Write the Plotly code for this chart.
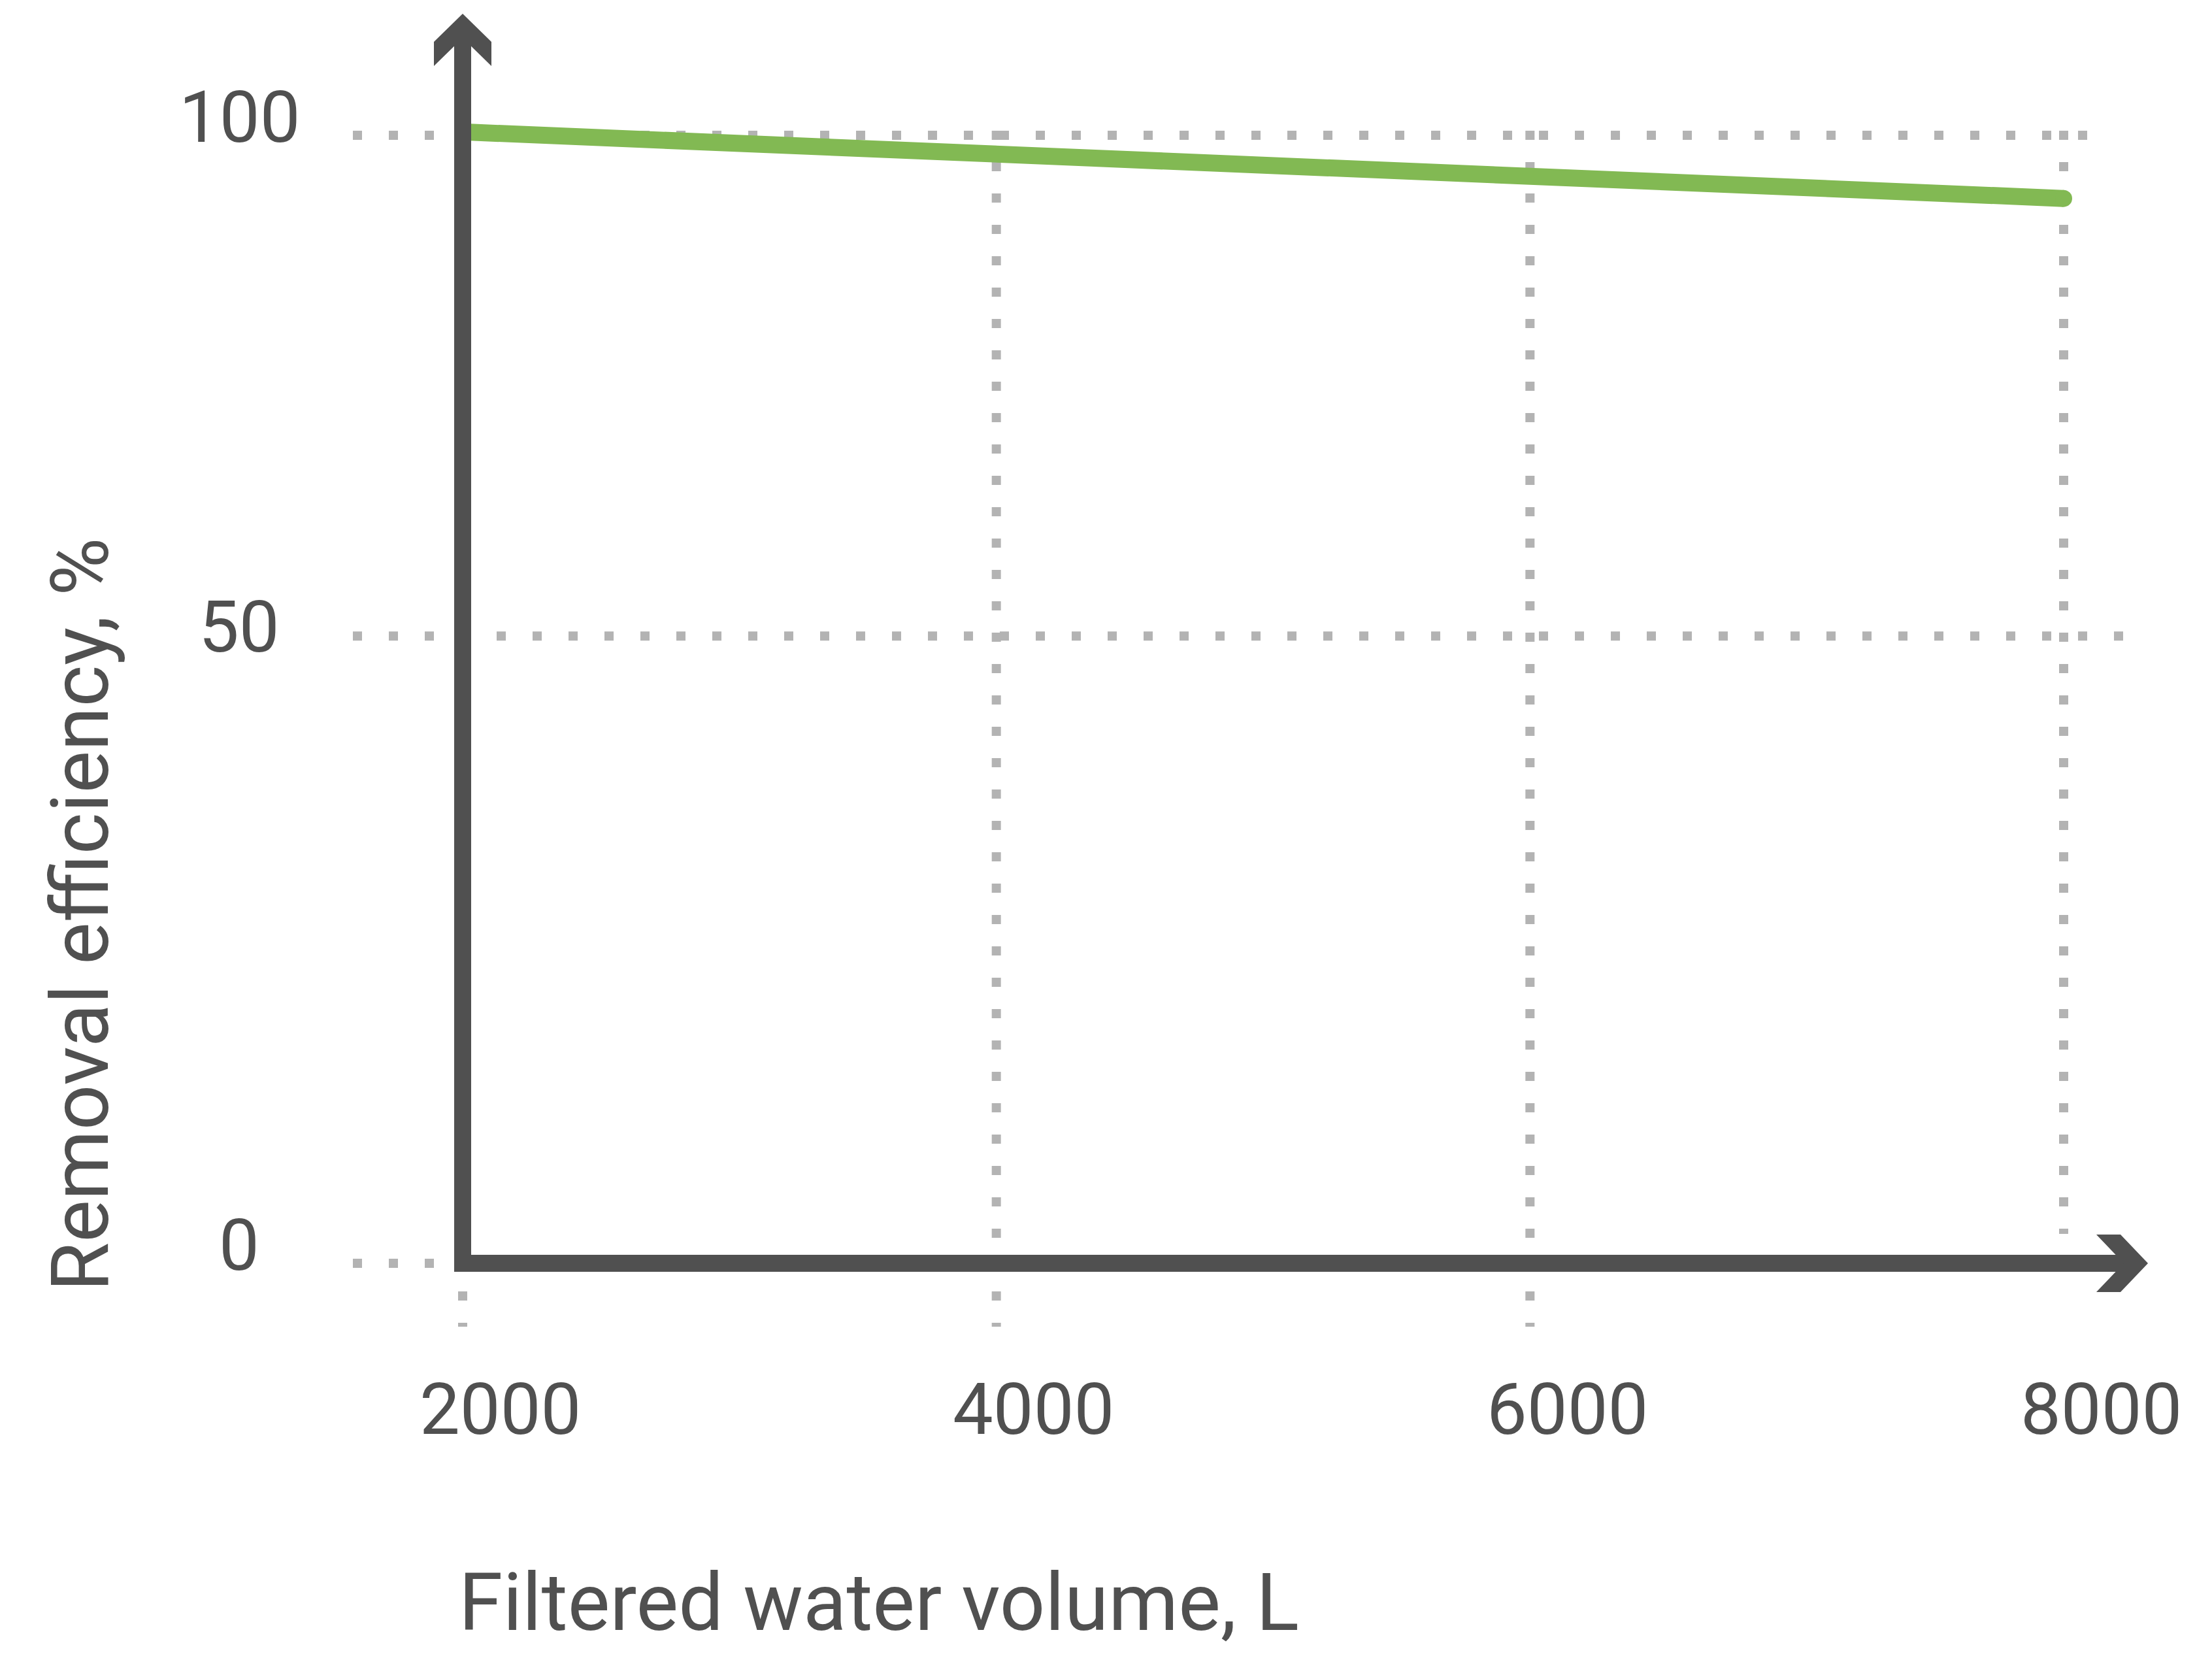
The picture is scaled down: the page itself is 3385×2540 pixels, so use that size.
import plotly.graph_objects as go

# data
volume = [2000, 8000]
efficiency = [100.3, 94.4]

x_ticks = [2000, 4000, 6000, 8000]
x_tick_text = ["2000", "4000", "6000", "8000"]
# the picture's y scale is not linear: the "50" line sits higher than it should
y_ticks = [100, 55.6, 0]
y_tick_text = ["100", "50", "0"]

INK = "#505050"
GRID = "#b3b3b3"
GREEN = "#82b953"
FONT = "Roboto"

# page body has an 8px margin, so the figure starts at (8, 8) on the page
OFF = 8
W, H = 3385 - 2 * OFF, 2540 - 2 * OFF
ML, MR, MT, MB = 492, 85, 0, 440
PW, PH = W - ML - MR, H - MT - MB

# page pixel anchors: x=2000 -> 708, x=8000 -> 3158; y=0 -> 1933, y=100 -> 207
KX = (3158 - 708) / 6000
KY = (1933 - 207) / 100
xmin = 2000 - (708 - OFF - ML) / KX
xmax = xmin + PW / KX
ymax = 100 + (207 - OFF - MT) / KY
ymin = ymax - PH / KY


def xo(v, dpx):
    return v + dpx / KX


def yo(v, dpx):
    # dpx positive = downwards on screen
    return v - dpx / KY


def paper_x(page_px):
    return (page_px - OFF - ML) / PW


def paper_y(page_px):
    return (H - MB - (page_px - OFF)) / PH


fig = go.Figure()

fig.add_trace(go.Scatter(
    x=volume, y=efficiency, mode="lines+markers",
    line=dict(color=GREEN, width=26),
    marker=dict(color=GREEN, size=26, line=dict(width=0)),
    hoverinfo="skip", showlegend=False,
))

shapes = []
hdot = dict(color=GRID, width=14, dash="14px,41px")
vdot = dict(color=GRID, width=14, dash="14px,34px")

# horizontal dotted grid
h_ends = [xo(x_ticks[-1], 62), xo(x_ticks[-1], 118), x_ticks[0]]
for yv, xend in zip(y_ticks, h_ends):
    shapes.append(dict(type="line", xref="x", yref="y", layer="below",
                       x0=xo(x_ticks[0], -168), x1=xend, y0=yv, y1=yv, line=hdot))

# vertical dotted grid
for xv in x_ticks:
    bottom = yo(0, -45) if xv == x_ticks[-1] else yo(0, 97)
    shapes.append(dict(type="line", xref="x", yref="y", layer="below",
                       x0=xv, x1=xv, y0=yo(100, -7), y1=bottom, line=vdot))

# axes drawn as thick lines with chevron arrow heads
shapes.append(dict(type="line", xref="x", yref="y", layer="above",
                   x0=x_ticks[0], x1=x_ticks[0], y0=yo(0, 13), y1=yo(100, -165),
                   line=dict(color=INK, width=26)))
shapes.append(dict(type="line", xref="x", yref="y", layer="above",
                   x0=xo(x_ticks[0], -13), x1=xo(x_ticks[-1], 105), y0=0, y1=0,
                   line=dict(color=INK, width=26)))


def path(points):
    return "M " + " L ".join(f"{a:.4f},{b:.4f}" for a, b in points) + " Z"


xa = [(50, -44), (87, -44), (129, 0), (87, 44), (50, 44), (92, 0)]
shapes.append(dict(type="path", xref="x", yref="y", layer="above",
                   path=path([(xo(x_ticks[-1], dx), yo(0, dy)) for dx, dy in xa]),
                   fillcolor=INK, line=dict(width=0)))
ya = [(0, -186), (44, -143), (44, -106), (0, -149), (-44, -106), (-44, -143)]
shapes.append(dict(type="path", xref="x", yref="y", layer="above",
                   path=path([(xo(x_ticks[0], dx), yo(100, dy)) for dx, dy in ya]),
                   fillcolor=INK, line=dict(width=0)))

annotations = []
for xv, t in zip(x_ticks, x_tick_text):
    annotations.append(dict(xref="x", yref="y", x=xv, y=0, text=t, showarrow=False,
                            xanchor="center", yanchor="middle", xshift=57, yshift=-223,
                            font=dict(family=FONT, size=110, color=INK)))
y_label_lift = [28, 14, 28]
for yv, t, lift in zip(y_ticks, y_tick_text, y_label_lift):
    annotations.append(dict(xref="paper", yref="y", x=paper_x(366), y=yv, text=t,
                            showarrow=False, xanchor="center", yanchor="middle", yshift=lift,
                            font=dict(family=FONT, size=110, color=INK)))

annotations.append(dict(xref="paper", yref="paper", x=paper_x(1345), y=paper_y(2452),
                        text="Filtered water volume, L", showarrow=False,
                        xanchor="center", yanchor="middle",
                        font=dict(family=FONT, size=122, color=INK)))
annotations.append(dict(xref="paper", yref="paper", x=paper_x(123), y=paper_y(1400),
                        text="Removal efficiency, %", showarrow=False, textangle=-90,
                        xanchor="center", yanchor="middle",
                        font=dict(family=FONT, size=122, color=INK)))

fig.update_layout(
    width=W, height=H,
    margin=dict(l=ML, r=MR, t=MT, b=MB),
    paper_bgcolor="white", plot_bgcolor="white",
    shapes=shapes, annotations=annotations,
    showlegend=False,
)
fig.update_xaxes(range=[xmin, xmax], visible=False)
fig.update_yaxes(range=[ymin, ymax], visible=False)

fig.write_html("out.html")
